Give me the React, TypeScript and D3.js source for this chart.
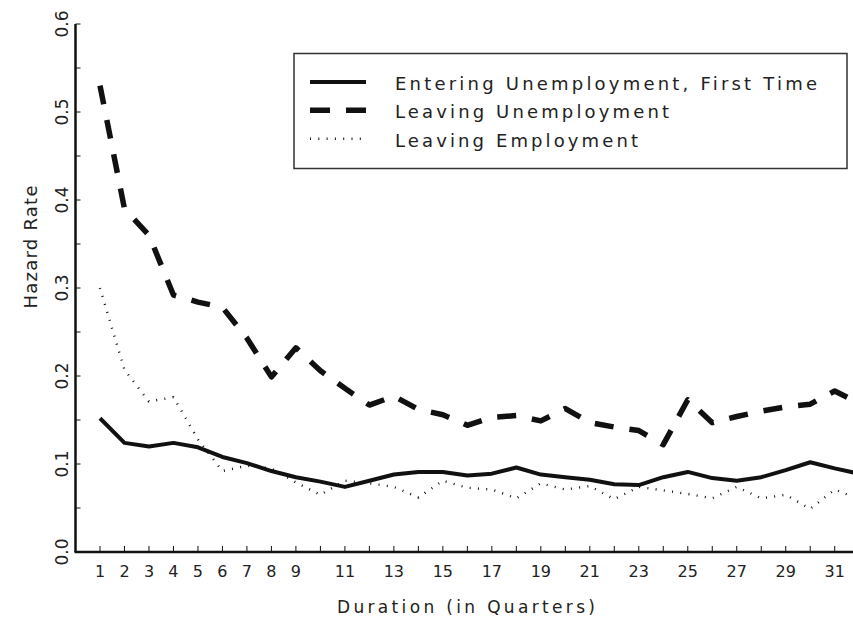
import React from "react";
import * as d3 from "d3";

// duration in quarters (the last one sits just past the right edge)
const quarters = [1, 2, 3, 4, 5, 6, 7, 8, 9, 10, 11, 12, 13, 14, 15, 16, 17, 18, 19, 20, 21, 22, 23, 24, 25, 26, 27, 28, 29, 30, 31, 32];

const enteringFirst = [0.152, 0.124, 0.120, 0.124, 0.119, 0.108, 0.101, 0.092, 0.085, 0.080, 0.074, 0.081, 0.088, 0.091, 0.091, 0.087, 0.089, 0.096, 0.088, 0.085, 0.082, 0.077, 0.076, 0.085, 0.091, 0.084, 0.081, 0.085, 0.093, 0.102, 0.095, 0.089];
const leavingUnemp = [0.530, 0.390, 0.360, 0.292, 0.284, 0.278, 0.243, 0.199, 0.232, 0.206, 0.186, 0.167, 0.177, 0.162, 0.156, 0.144, 0.153, 0.155, 0.149, 0.163, 0.147, 0.142, 0.138, 0.122, 0.173, 0.147, 0.154, 0.160, 0.165, 0.168, 0.183, 0.169];
const leavingEmp = [0.300, 0.207, 0.171, 0.176, 0.128, 0.092, 0.098, 0.095, 0.079, 0.065, 0.081, 0.078, 0.074, 0.062, 0.081, 0.073, 0.071, 0.061, 0.078, 0.071, 0.075, 0.060, 0.074, 0.070, 0.066, 0.061, 0.074, 0.061, 0.065, 0.049, 0.071, 0.060];

const seriesNames = ["Entering Unemployment, First Time", "Leaving Unemployment", "Leaving Employment"];

const yTicks = [0, 0.05, 0.1, 0.15, 0.2, 0.25, 0.3, 0.35, 0.4, 0.45, 0.5, 0.55, 0.6];
const yTickLabels = [0, 0.1, 0.2, 0.3, 0.4, 0.5, 0.6];
const xTicks = quarters;
const xTickLabels = [1, 2, 3, 4, 5, 6, 7, 8, 9, 11, 13, 15, 17, 19, 21, 23, 25, 27, 29, 31];

const W = 853;
const H = 619;
const FONT = "DejaVu Sans";
const INK = "#111";
const TXT = "#222";

const App: React.FC = () => {
  const x = d3.scaleLinear().domain([0, 32]).range([75.5, 859.2]);
  const y = d3.scaleLinear().domain([0, 0.6]).range([552, 24]);

  const line = d3
    .line<number>()
    .x((_, i) => x(quarters[i]))
    .y((d) => y(d));

  // line styles: solid, long dash, fine dots
  const styles = [
    { width: 4, dash: "none" },
    { width: 5.5, dash: "19 16" },
    { width: 2.4, dash: "1 7.3" },
  ];
  const series = [enteringFirst, leavingUnemp, leavingEmp];

  const legendRows = [90, 118.3, 146.7];
  const legendLens = [422, 274, 243];

  return (
    <svg
      width={W}
      height={H}
      style={{ position: "absolute", left: 0, top: 0, background: "#fff" }}
    >
      {/* series */}
      {series.map((s, i) => (
        <path
          key={i}
          d={line(s) || ""}
          fill="none"
          stroke={INK}
          strokeWidth={styles[i].width}
          strokeDasharray={styles[i].dash}
          strokeLinejoin="round"
        />
      ))}

      {/* y axis */}
      <line x1={x(0)} x2={x(0)} y1={y(0)} y2={y(0.6)} stroke={INK} strokeWidth={2.5} />
      {yTicks.map((t) => (
        <line key={t} x1={x(0)} x2={x(0) + 5} y1={y(t)} y2={y(t)} stroke={INK} strokeWidth={1} />
      ))}
      {yTickLabels.map((t) => (
        <text
          key={t}
          transform={`translate(68,${y(t)}) rotate(-90)`}
          textAnchor="middle"
          fontFamily={FONT}
          fontSize={18}
          fill={TXT}
          textLength={27}
          lengthAdjust="spacingAndGlyphs"
        >
          {d3.format(".1f")(t)}
        </text>
      ))}
      <text
        transform="translate(37,247) rotate(-90)"
        textAnchor="middle"
        fontFamily={FONT}
        fontSize={18}
        fill={TXT}
        textLength={123}
        lengthAdjust="spacing"
      >
        Hazard Rate
      </text>

      {/* x axis */}
      <line x1={x(0) - 1} x2={W} y1={y(0)} y2={y(0)} stroke={INK} strokeWidth={2.5} />
      {xTicks.map((t) => (
        <line key={t} x1={x(t)} x2={x(t)} y1={y(0)} y2={y(0) - 6} stroke={INK} strokeWidth={1} />
      ))}
      {xTickLabels.map((t) => (
        <text
          key={t}
          x={x(t)}
          y={577}
          textAnchor="middle"
          fontFamily={FONT}
          fontSize={16}
          fill={TXT}
        >
          {t}
        </text>
      ))}
      <text
        x={466}
        y={613}
        textAnchor="middle"
        fontFamily={FONT}
        fontSize={17}
        fill={TXT}
        textLength={258}
        lengthAdjust="spacing"
      >
        Duration (in Quarters)
      </text>

      {/* legend */}
      <rect x={294} y={53.5} width={553} height={115} fill="#fff" stroke="#333" strokeWidth={1.5} />
      {seriesNames.map((name, i) => (
        <g key={name}>
          <line
            x1={310}
            x2={366}
            y1={legendRows[i] - 8}
            y2={legendRows[i] - 8}
            stroke={INK}
            strokeWidth={styles[i].width}
            strokeDasharray={i === 1 ? "20 16" : styles[i].dash}
          />
          <text
            x={395}
            y={legendRows[i]}
            fontFamily={FONT}
            fontSize={18}
            fill={TXT}
            textLength={legendLens[i]}
            lengthAdjust="spacing"
          >
            {name}
          </text>
        </g>
      ))}
    </svg>
  );
};

export default App;
